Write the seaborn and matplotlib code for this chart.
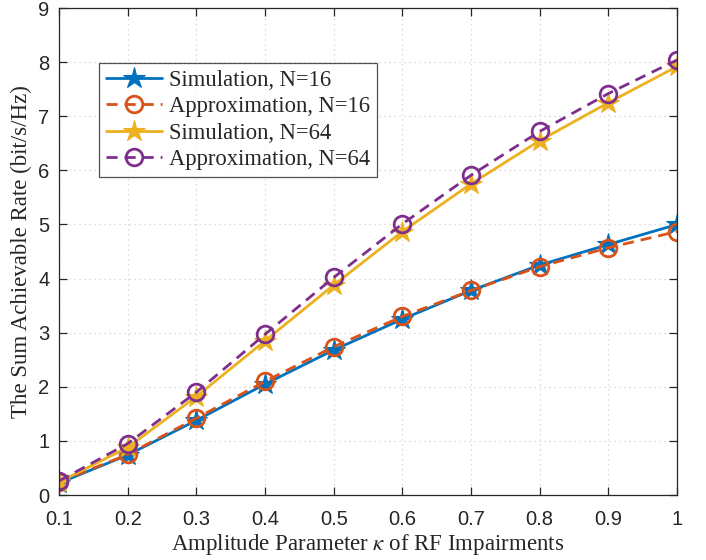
import numpy as np
import pandas as pd
import matplotlib
matplotlib.use("Agg")
import matplotlib.pyplot as plt
import seaborn as sns

kappa = [0.1, 0.2, 0.3, 0.4, 0.5, 0.6, 0.7, 0.8, 0.9, 1.0]
sim_n16 = [0.22, 0.74, 1.38, 2.05, 2.68, 3.25, 3.78, 4.25, 4.63, 5.00]
approx_n16 = [0.24, 0.75, 1.42, 2.10, 2.74, 3.30, 3.78, 4.22, 4.57, 4.87]
sim_n64 = [0.24, 0.88, 1.82, 2.85, 3.88, 4.87, 5.75, 6.55, 7.25, 7.92]
approx_n64 = [0.26, 0.95, 1.90, 2.97, 4.02, 5.01, 5.91, 6.72, 7.42, 8.04]

series_names = ["Simulation, N=16", "Approximation, N=16",
                "Simulation, N=64", "Approximation, N=64"]
series_values = [sim_n16, approx_n16, sim_n64, approx_n64]
x_ticks = [0.1, 0.2, 0.3, 0.4, 0.5, 0.6, 0.7, 0.8, 0.9, 1.0]
x_tick_labels = ["0.1", "0.2", "0.3", "0.4", "0.5", "0.6", "0.7", "0.8", "0.9", "1"]
y_ticks = list(range(0, 10))

df = pd.DataFrame({
    "kappa": np.tile(kappa, len(series_names)),
    "rate": np.concatenate(series_values),
    "series": np.repeat(series_names, len(kappa)),
})

sns.set_theme(style="white")
plt.rcParams["font.family"] = ["Liberation Sans", "DejaVu Sans"]
plt.rcParams["mathtext.fontset"] = "stix"

colors = ["#0072BD", "#D95319", "#EDB120", "#7E2F8E"]
styles = [
    dict(marker="*", ls="-", ms=16, hollow=False),
    dict(marker="o", ls=(0, (4, 2.5)), ms=12, hollow=True),
    dict(marker="*", ls="-", ms=16, hollow=False),
    dict(marker="o", ls=(0, (4, 2.5)), ms=12, hollow=True),
]

fig = plt.figure(figsize=(7.06, 5.60), dpi=100)
ax = fig.add_axes([0.0836, 0.116, 0.8754, 0.8697])

for name, c, st in zip(series_names, colors, styles):
    sub = df[df["series"] == name]
    kw = dict(marker=st["marker"], markersize=st["ms"], markeredgecolor=c)
    if st["hollow"]:
        kw["markerfacecolor"] = "none"
        kw["markeredgewidth"] = 2.0
    else:
        kw["markerfacecolor"] = c
        kw["markeredgewidth"] = 0.8
    sns.lineplot(data=sub, x="kappa", y="rate", ax=ax, color=c, linewidth=2.0,
                 linestyle=st["ls"], label=name, **kw)

ax.set_xlim(0.1, 1.0)
ax.set_ylim(0, 9)
ax.set_xticks(x_ticks)
ax.set_xticklabels(x_tick_labels)
ax.set_yticks(y_ticks)

ax.grid(True, color="#d0d0d0", linestyle=(0, (1, 3)), linewidth=0.9)
for sp in ax.spines.values():
    sp.set_color("#262626")
    sp.set_linewidth(0.9)
ax.tick_params(axis="both", which="both", direction="in", length=6,
               width=0.9, color="#262626", labelsize=14.5, labelcolor="#262626",
               top=True, right=True, bottom=True, left=True)
ax.tick_params(axis="x", pad=11)
ax.tick_params(axis="y", pad=7)

serif = ["Liberation Serif", "DejaVu Serif"]
ax.set_xlabel(r"Amplitude Parameter $\kappa$ of RF Impairments",
              fontsize=16.5, family=serif, labelpad=2)
ax.set_ylabel("The Sum Achievable Rate (bit/s/Hz)", fontsize=16.5,
              family=serif, labelpad=4)

leg = ax.legend(loc="upper left", bbox_to_anchor=(0.0647, 0.887),
                borderaxespad=0.0,
                prop={"family": serif, "size": 16.3}, frameon=True,
                fancybox=False, edgecolor="#262626", handlelength=2.5,
                borderpad=0.3, labelspacing=0.24, handletextpad=0.3)
leg.get_frame().set_linewidth(0.9)

fig.savefig("out.png", dpi=100)
